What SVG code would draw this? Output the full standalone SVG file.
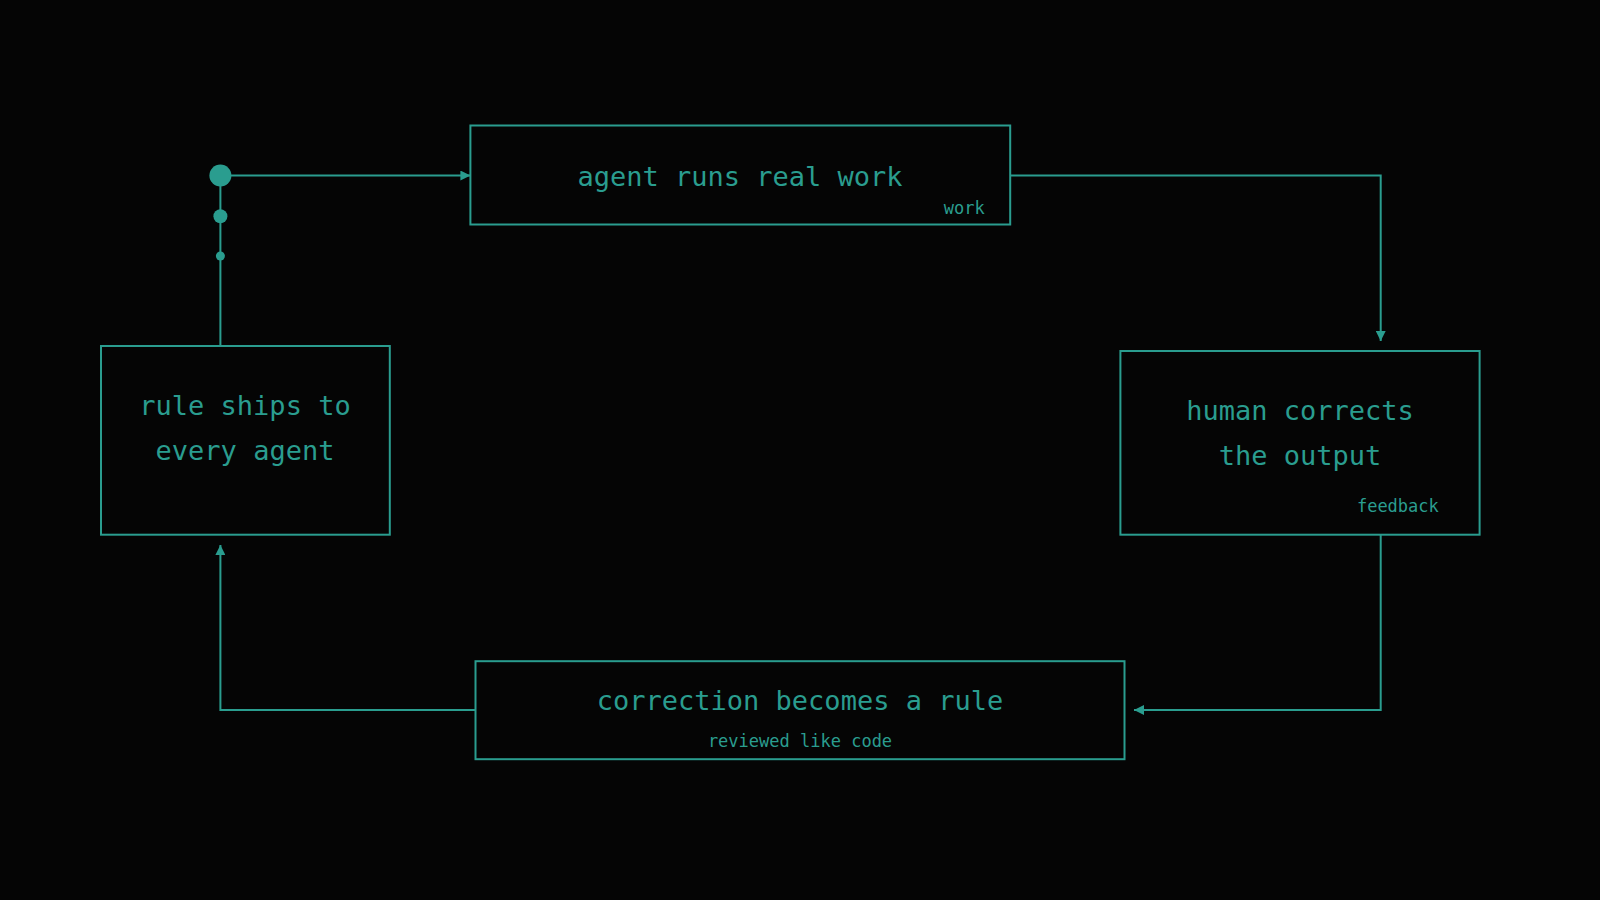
<svg xmlns="http://www.w3.org/2000/svg" width="1600" height="900" viewBox="0 0 1600 900">
<style>
.box{fill:none;stroke:#2a9d8f;stroke-width:2}
.ln{fill:none;stroke:#2a9d8f;stroke-width:2}
.t{fill:#2a9d8f;font-family:"DejaVu Sans Mono","Liberation Mono",monospace;font-size:27px;text-anchor:middle}
.s{fill:#2a9d8f;font-family:"DejaVu Sans Mono","Liberation Mono",monospace;font-size:17px}
</style>
<defs>
<marker id="a" viewBox="0 0 10 10" refX="10" refY="5" markerWidth="10" markerHeight="10" markerUnits="userSpaceOnUse" orient="auto">
<path d="M0,0 L10,5 L0,10 z" fill="#2a9d8f"/>
</marker>
</defs>
<rect width="1600" height="900" fill="#050505"/>
<g id="connectors">
<path class="ln" d="M220.4,175.5 H470.4" marker-end="url(#a)"/>
<path class="ln" d="M220.4,175.5 V346"/>
<path class="ln" d="M1010.2,175.5 H1380.7 V341" marker-end="url(#a)"/>
<path class="ln" d="M1380.7,534.7 V710 H1134" marker-end="url(#a)"/>
<path class="ln" d="M475.5,710 H220.4 V545" marker-end="url(#a)"/>
<circle cx="220.4" cy="175.5" r="11" fill="#2a9d8f"/>
<circle cx="220.4" cy="216.3" r="7" fill="#2a9d8f"/>
<circle cx="220.4" cy="256" r="4.5" fill="#2a9d8f"/>
</g>
<g id="n1">
<rect class="box" x="470.4" y="125.5" width="539.8" height="99"/>
<text class="t" x="740" y="185.7">agent runs real work</text>
<text class="s" x="984.7" y="214" text-anchor="end">work</text>
</g>
<g id="n2">
<rect class="box" x="1120.4" y="351" width="359.2" height="183.7"/>
<text class="t" x="1300" y="420.4">human corrects</text>
<text class="t" x="1300" y="465.3">the output</text>
<text class="s" x="1438.8" y="512" text-anchor="end">feedback</text>
</g>
<g id="n3">
<rect class="box" x="475.5" y="661.2" width="649" height="98"/>
<text class="t" x="800" y="710">correction becomes a rule</text>
<text class="s" x="800" y="747" text-anchor="middle">reviewed like code</text>
</g>
<g id="n4">
<rect class="box" x="101" y="346" width="288.8" height="188.7"/>
<text class="t" x="245" y="415">rule ships to</text>
<text class="t" x="245" y="460">every agent</text>
</g>
</svg>
